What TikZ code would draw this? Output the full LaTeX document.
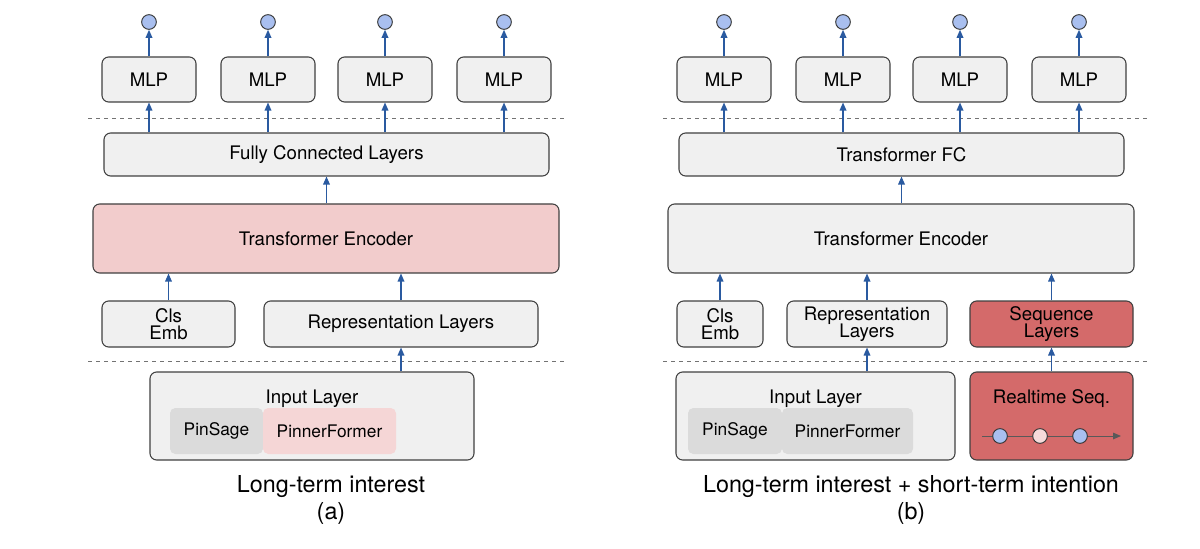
\documentclass[tikz,border=0pt]{standalone}
\usepackage{fontspec}
\setmainfont{TeX Gyre Heros}
\usetikzlibrary{arrows.meta}
\definecolor{arr}{HTML}{2A5AA0}
\definecolor{boxg}{HTML}{F0F0F0}
\definecolor{pinkf}{HTML}{F2CCCC}
\definecolor{redf}{HTML}{D46A6A}
\definecolor{dot}{HTML}{A9BFEF}
\begin{document}
\begin{tikzpicture}[x=0.75pt,y=-0.75pt,
  box/.style={draw=black!75,line width=0.8pt,rounded corners=5pt,fill=boxg,font=\fontsize{14}{15}\selectfont,align=center,inner sep=0pt},
  inner/.style={fill=black!14,rounded corners=4pt,inner sep=0pt,font=\fontsize{13}{14}\selectfont},
  ar/.style={draw=arr,line width=0.9pt,-{Triangle[length=6pt,width=5pt]}},
  dsh/.style={draw=black!55,dashed,line width=0.7pt},
  circ/.style={circle,draw=black!80,fill=dot,minimum size=11pt,inner sep=0pt,line width=0.7pt},
  captxt/.style={font=\fontsize{17.5}{19}\selectfont}]
\useasboundingbox (0,0) rectangle (1200,549);
% ---------- LEFT ----------
\foreach \a/\b [count=\i] in {102/196,221/315,338/432,457/551}{
  \node[box,minimum width={(\b-\a)*0.75pt},minimum height=33.75pt] (lm\i) at ({(\a+\b)/2},79.5) {MLP};
  \node[circ] (lc\i) at ({(\a+\b)/2},22) {};
  \draw[ar] (lm\i.north) -- (lc\i.south);
}
\draw[dsh] (88,118) -- (565,118);
\node[box,minimum width=333.75pt,minimum height=32.25pt] (lfc) at (326.5,154.5) {Fully Connected Layers};
\foreach \i in {1,...,4}{\draw[ar] (lfc.north -| lm\i) -- (lm\i.south);}
\node[box,fill=pinkf,minimum width=349.5pt,minimum height=51.75pt] (lenc) at (326,238.5) {Transformer Encoder};
\draw[ar] (lenc.north -| lfc) -- (lfc.south);
\node[box,minimum width=99.75pt,minimum height=34.5pt] (lcls) at (168.5,324) {Cls\\[-2pt]Emb};
\node[box,minimum width=205.5pt,minimum height=34.5pt] (lrep) at (401,324) {Representation Layers};
\draw[ar] (lcls.north) -- (lenc.south -| lcls);
\draw[ar] (lrep.north) -- (lenc.south -| lrep);
\draw[dsh] (88,361) -- (565,361);
\node[box,minimum width=243pt,minimum height=66pt,text depth=29pt] (lin) at (312,416) {Input Layer};
\node[inner,minimum width=69.75pt,minimum height=34.5pt] (lps) at (216.5,431) {PinSage};
\node[inner,fill=pinkf!80,minimum width=99.75pt,minimum height=34.5pt] (lpf) at (329.5,431) {PinnerFormer};
\draw[ar] (lin.north -| lrep) -- (lrep.south);
\node[captxt] (lcap) at (331,487) {Long-term interest};
\node[captxt] (lcapb) at (331,513) {(a)};
% ---------- RIGHT ----------
\foreach \a/\b [count=\i] in {677/771,796/890,913/1007,1032/1126}{
  \node[box,minimum width={(\b-\a)*0.75pt},minimum height=33.75pt] (rm\i) at ({(\a+\b)/2},79.5) {MLP};
  \node[circ] (rc\i) at ({(\a+\b)/2},22) {};
  \draw[ar] (rm\i.north) -- (rc\i.south);
}
\draw[dsh] (663,118) -- (1150,118);
\node[box,minimum width=333.75pt,minimum height=32.25pt] (rfc) at (901.5,154.5) {Transformer FC};
\foreach \i in {1,...,4}{\draw[ar] (rfc.north -| rm\i) -- (rm\i.south);}
\node[box,minimum width=349.5pt,minimum height=51.75pt] (renc) at (901,238.5) {Transformer Encoder};
\draw[ar] (renc.north -| rfc) -- (rfc.south);
\node[box,minimum width=64.5pt,minimum height=34.5pt] (rcls) at (720,324) {Cls\\[-2pt]Emb};
\node[box,minimum width=120pt,minimum height=34.5pt] (rrep) at (867,324) {Representation\\[-2pt]Layers};
\node[box,fill=redf,minimum width=122.25pt,minimum height=34.5pt] (rseq) at (1051.5,324) {Sequence\\[-2pt]Layers};
\draw[ar] (rcls.north) -- (renc.south -| rcls);
\draw[ar] (rrep.north) -- (renc.south -| rrep);
\draw[ar] (rseq.north) -- (renc.south -| rseq);
\draw[dsh] (663,361) -- (1150,361);
\node[box,minimum width=209.25pt,minimum height=66pt,text depth=29pt] (rin) at (815.5,416) {Input Layer};
\node[inner,minimum width=70.5pt,minimum height=34.5pt] (rps) at (735,431) {PinSage};
\node[inner,minimum width=98.25pt,minimum height=34.5pt] (rpf) at (847.5,431) {PinnerFormer};
\node[box,fill=redf,minimum width=122.25pt,minimum height=66pt,text depth=29pt] (rrt) at (1051.5,416) {Realtime Seq.};
\draw[ar] (rin.north -| rrep) -- (rrep.south);
\draw[ar] (rrt.north) -- (rseq.south);
\coordinate (sa) at (982,436); \coordinate (sb) at (1121,436);
\draw[draw=black!65,line width=0.7pt,-{Triangle[length=6pt,width=5pt]}] (sa) -- (sb);
\node[circ] (s1) at (1000,436) {};
\node[circ,fill=pinkf!70] (s2) at (1040,436) {};
\node[circ] (s3) at (1080,436) {};
\node[captxt] (rcap) at (911,487) {Long-term interest + short-term intention};
\node[captxt] (rcapb) at (911,513) {(b)};
\end{tikzpicture}
\end{document}
